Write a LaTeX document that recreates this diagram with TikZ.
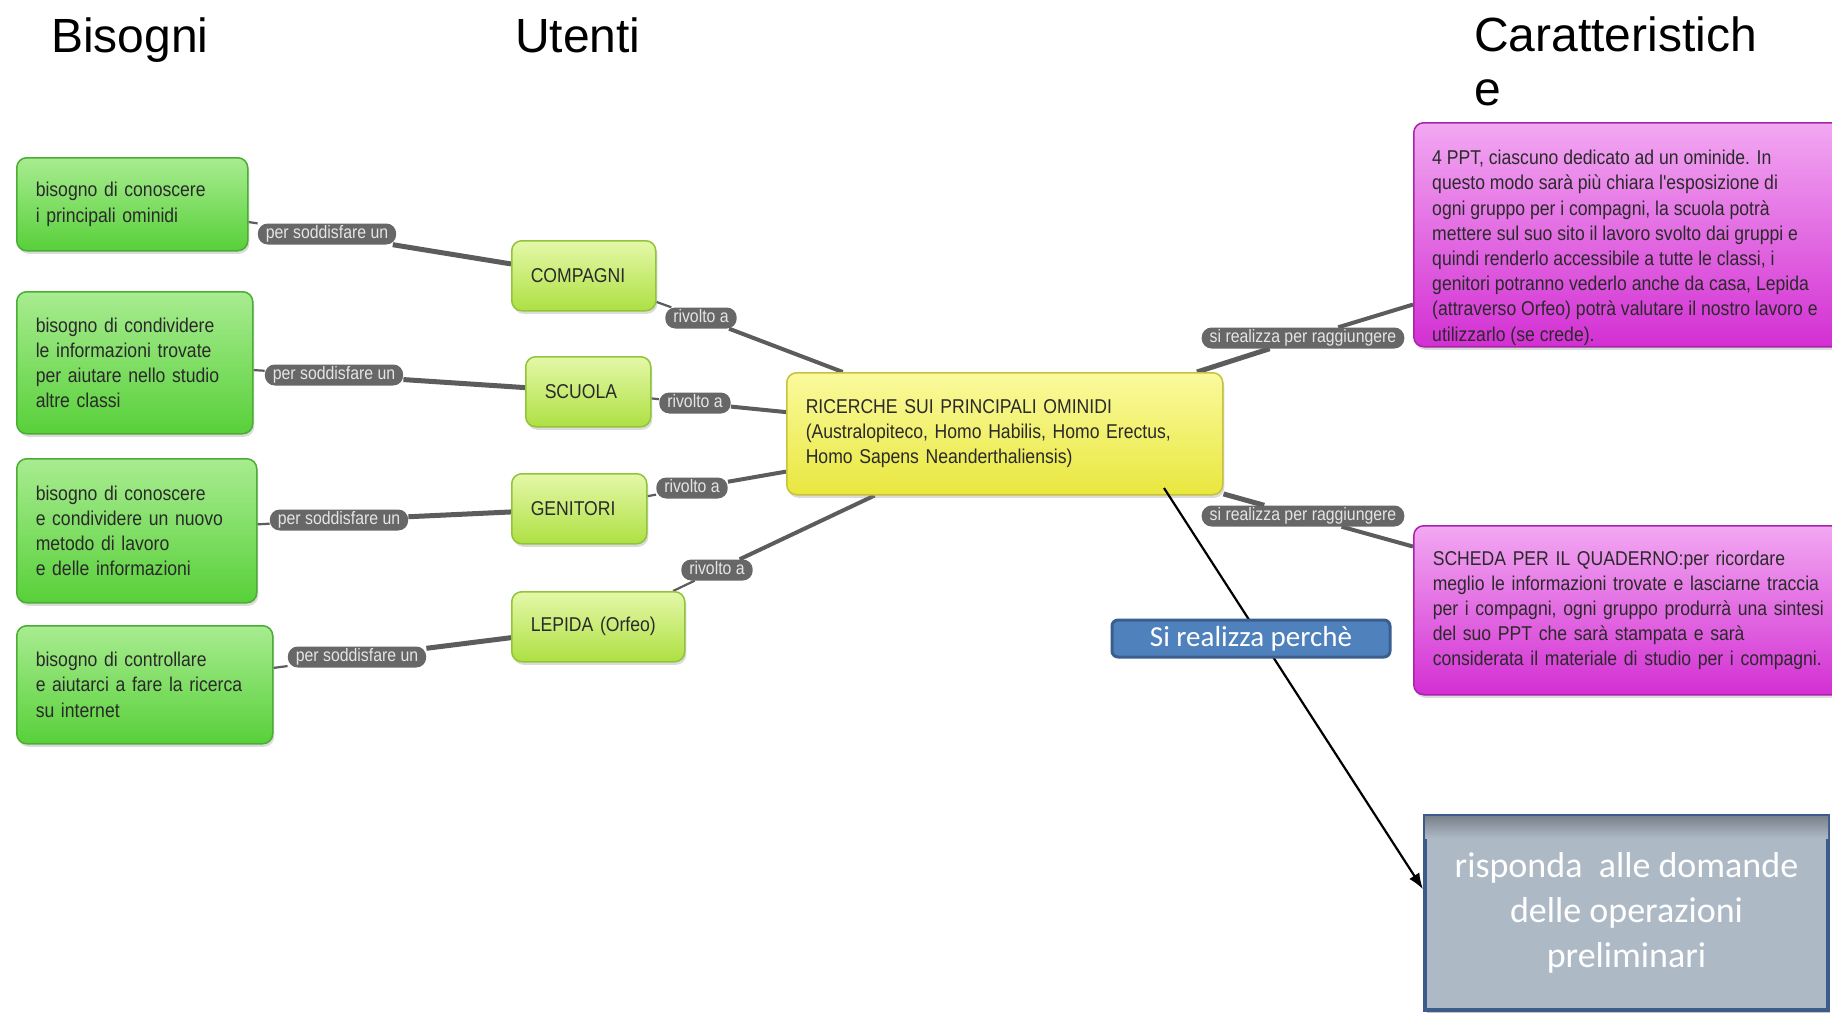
\documentclass[tikz,border=0pt]{standalone}
\usepackage{fontspec}
\setmainfont{Liberation Sans}
\newfontfamily\cmapfont[FakeStretch=0.88]{Liberation Sans}
\newfontfamily\calibfont{Carlito}
\usetikzlibrary{shadows,backgrounds,calc,arrows.meta}

\definecolor{gTop}{HTML}{A8EC90}
\definecolor{gBot}{HTML}{58D03A}
\definecolor{gBor}{HTML}{4AAE34}
\definecolor{lTop}{HTML}{E4F8A8}
\definecolor{lBot}{HTML}{AEE043}
\definecolor{lBor}{HTML}{92C43A}
\definecolor{yTop}{HTML}{FAFA9E}
\definecolor{yBot}{HTML}{E9E73E}
\definecolor{yBor}{HTML}{C6C33A}
\definecolor{mTop}{HTML}{F2A8F2}
\definecolor{mBot}{HTML}{D32FD3}
\definecolor{mBor}{HTML}{A824A8}
\definecolor{pillC}{HTML}{676767}
\definecolor{lineC}{HTML}{5C5C5C}
\definecolor{txtC}{HTML}{2A2A2A}
\definecolor{blueF}{HTML}{4F81BD}
\definecolor{blueB}{HTML}{3A5F8E}
\definecolor{grayF}{HTML}{AEB9C6}
\definecolor{grayB}{HTML}{3C5C8B}

\tikzset{
  cbox/.style={rounded corners=10pt, line width=1.5pt, inner xsep=19pt, inner ysep=0pt,
    align=left, anchor=north west, text=txtC,
    font=\cmapfont\fontsize{20}{25.2}\selectfont,
    drop shadow={opacity=0.28, shadow xshift=1.5pt, shadow yshift=-3pt}},
  needbox/.style={cbox, top color=gTop, bottom color=gBot, draw=gBor},
  userbox/.style={cbox, top color=lTop, bottom color=lBot, draw=lBor},
  topicbox/.style={cbox, top color=yTop, bottom color=yBot, draw=yBor},
  featbox/.style={cbox, top color=mTop, bottom color=mBot, draw=mBor},
  feattext/.style={inner sep=0pt, align=left, anchor=north west, text=txtC,
    font=\cmapfont\fontsize{20}{25.2}\selectfont},
  pill/.style={fill=pillC, text=white!90!black, rounded corners=10pt, inner xsep=8pt,
    inner ysep=0pt, minimum height=21pt, text height=13pt, text depth=3.5pt,
    font=\cmapfont\fontsize{18}{20}\selectfont},
  thinln/.style={draw=lineC, line width=2.2pt},
  thickln/.style={draw=lineC, line width=5pt},
  midln/.style={draw=lineC, line width=4pt},
  headtitle/.style={font=\fontsize{48}{54}\selectfont, inner sep=0pt, text=black},
  labelbox/.style={fill=blueF, draw=blueB, line width=3pt, rounded corners=6pt,
    minimum width=278pt, minimum height=37pt, inner sep=0pt, text=white,
    font=\calibfont\fontsize{29}{30}\selectfont},
  answerbox/.style={fill=grayF, draw=grayB, line width=4pt, anchor=north west,
    minimum width=403pt, minimum height=194pt, inner sep=0pt,
    drop shadow={opacity=0.45, shadow xshift=2pt, shadow yshift=-3pt}},
  anstext/.style={align=center, inner sep=0pt, text=white,
    font=\calibfont\fontsize{36}{45}\selectfont},
  arrowln/.style={draw=black, line width=2.2pt, -{Latex[length=16pt,width=12pt]}}
}

\begin{document}
\begin{tikzpicture}[x=1pt,y=-1pt]
\useasboundingbox (0,0) rectangle (1832,1018);

% titles
\node[headtitle, anchor=base west] (tB) at (51,52) {Bisogni};
\node[headtitle, anchor=base west] (tU) at (515,52) {Utenti};
\node[headtitle, anchor=north west, align=left] (tC) at (1474,17) {Caratteristich\\e};

% needs
\node[needbox, text width=193pt, minimum height=93pt] (G1) at (16,157)
  {bisogno di conoscere\\i principali ominidi};
\node[needbox, text width=198pt, minimum height=142pt] (G2) at (16,291)
  {bisogno di condividere\\le informazioni trovate\\per aiutare nello studio\\altre classi};
\node[needbox, text width=202pt, minimum height=144pt] (G3) at (16,458)
  {bisogno di conoscere\\e condividere un nuovo\\metodo di lavoro\\e delle informazioni};
\node[needbox, text width=218pt, minimum height=118pt] (G4) at (16,625)
  {bisogno di controllare\\e aiutarci a fare la ricerca\\su internet};

% users
\node[userbox, text width=106pt, minimum height=70pt] (COMP) at (511,240) {COMPAGNI};
\node[userbox, text width=87pt, minimum height=70pt] (SCU) at (525,356) {SCUOLA};
\node[userbox, text width=97pt, minimum height=70pt] (GEN) at (511,473) {GENITORI};
\node[userbox, text width=135pt, minimum height=70pt] (LEP) at (511,591) {LEPIDA (Orfeo)};

% central topic
\node[topicbox, text width=398pt, minimum height=122pt] (C) at (786,372)
  {RICERCHE SUI PRINCIPALI OMINIDI\\(Australopiteco, Homo Habilis, Homo Erectus,\\Homo Sapens Neanderthaliensis)};

% features
\node[featbox, minimum width=460pt, minimum height=224pt] (M1) at (1413,122) {};
\node[feattext] (M1t) at (1432,150)
  {4 PPT, ciascuno dedicato ad un ominide. In\\
   questo modo sarà più chiara l'esposizione di\\
   ogni gruppo per i compagni, la scuola potrà\\
   mettere sul suo sito il lavoro svolto dai gruppi e\\
   quindi renderlo accessibile a tutte le classi, i\\
   genitori potranno vederlo anche da casa, Lepida\\
   (attraverso Orfeo) potrà valutare il nostro lavoro e\\
   utilizzarlo (se crede).};
\node[featbox, text width=422pt, minimum height=169pt] (M2) at (1413,525)
  {SCHEDA PER IL QUADERNO:per ricordare\\
   meglio le informazioni trovate e lasciarne traccia\\
   per i compagni, ogni gruppo produrrà una sintesi\\
   del suo PPT che sarà stampata e sarà\\
   considerata il materiale di studio per i compagni.};

% linking phrases
\node[pill] (P1) at (327,234) {per soddisfare un};
\node[pill] (P2) at (334,375) {per soddisfare un};
\node[pill] (P3) at (339,520) {per soddisfare un};
\node[pill] (P4) at (357,657) {per soddisfare un};
\node[pill] (R1) at (701,318) {rivolto a};
\node[pill] (R2) at (695,403) {rivolto a};
\node[pill] (R3) at (692,488) {rivolto a};
\node[pill] (R4) at (717,570) {rivolto a};
\node[pill] (S1) at (1303,338) {si realizza per raggiungere};
\node[pill] (S2) at (1303,516) {si realizza per raggiungere};

% connectors
\begin{pgfonlayer}{background}
  \fill[white] (0,0) rectangle (1832,1018);
  \draw[thinln] (G1) -- (P1);
  \draw[thickln] (P1) -- (COMP);
  \draw[thinln] (G2) -- (P2);
  \draw[thickln] (P2) -- (SCU);
  \draw[thinln] (G3) -- (P3);
  \draw[thickln] (P3) -- (GEN);
  \draw[thinln] (G4) -- (P4);
  \draw[thickln] (P4) -- (LEP);
  \draw[thinln] (COMP) -- (R1);
  \draw[midln] (R1) -- (C);
  \draw[thinln] (SCU) -- (R2);
  \draw[midln] (R2) -- (C);
  \draw[thinln] (GEN) -- (R3);
  \draw[midln] (R3) -- (C);
  \draw[thinln] (LEP) -- (R4);
  \draw[midln] (R4) -- (C);
  \draw[thickln] (C) -- (S1);
  \draw[midln] (S1) -- (M1);
  \draw[thickln] (C) -- (S2);
  \draw[midln] (S2) -- (M2);
\end{pgfonlayer}

% answer box
\node[answerbox] (A) at (1423,814) {};
\shade[top color=black!30!grayF, bottom color=grayF]
  ([xshift=2pt,yshift=-2pt]A.north west) rectangle ([xshift=-2pt,yshift=-24pt]A.north east);
\node[anstext] (At) at (A.center)
  {risponda~ alle domande\\delle operazioni\\preliminari};

% arrow and its label
\coordinate (arrowStart) at (1164,488);
\draw[arrowln] (arrowStart) -- ($(A.north west)!0.38!(A.south west)$);
\node[labelbox] (why) at (1251,638.5) {Si realizza perchè};

\end{tikzpicture}
\end{document}
